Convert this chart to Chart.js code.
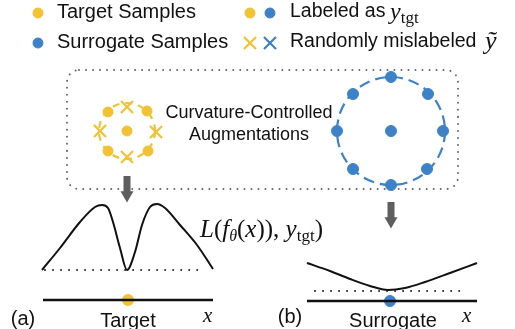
<!DOCTYPE html>
<html>
<head>
<meta charset="utf-8">
<script src="https://cdn.jsdelivr.net/npm/chart.js@4/dist/chart.umd.min.js"></script>
<style>
  html, body { margin: 0; padding: 0; background: #fff; }
  #figure { display: block; }
</style>
</head>
<body>
<canvas id="figure" width="515" height="329"></canvas>
<script>
// Colours
const yellow = '#F2C232';
const blue = '#3D82C8';
const gray = '#5e5e5e';

// Legend markers (figure units)
const legendYellowDots = [[38, 13], [250, 13]];
const legendBlueDots = [[270, 13], [38, 43]];
const legendYellowCross = [[250, 43]];
const legendBlueCross = [[270, 43]];

// Target samples: centre point + ring of augmentations
const targetCenter = [[127, 131]];
const targetRingDots = [[108, 112], [147, 111], [108, 151], [148, 151]];
const targetRingCrosses = [[127, 107], [100, 131], [156, 132], [127, 157]];
const targetRing = { cx: 127, cy: 131, r: 28 };

// Surrogate samples: centre point + ring of augmentations
const surrogateCenter = [[391, 131]];
const surrogateRingDots = [[391, 77], [428, 94], [443, 131], [427, 169], [391, 185], [353, 169], [337, 131], [353, 94]];
const surrogateRing = { cx: 391, cy: 131, r: 54 };

// Loss curves
const targetLossX = [42, 60, 80, 95, 102, 108, 113, 120, 127, 135, 142, 150, 157, 165, 180, 197, 213];
const targetLossY = [270, 248, 222, 207, 205, 208, 222, 248, 270, 252, 225, 207, 204, 208, 225, 245, 269];
const surrogateLossX = [307, 330, 350, 370, 388, 405, 425, 450, 477];
const surrogateLossY = [263, 271, 279, 286, 290, 288, 282, 273, 263];

// Reference (minimum) lines and x axes
const targetMinLine = [[45, 270], [204, 270]];
const surrogateMinLine = [[315, 291], [464, 291]];
const targetAxis = [[43, 300], [213, 300]];
const surrogateAxis = [[307, 301], [477, 301]];
const targetPoint = [[128, 300]];
const surrogatePoint = [[390, 301]];

// Arrows (shaft start, shaft end) and arrow tips
const leftArrow = [[127, 176], [127, 192]];
const rightArrow = [[391, 202], [391, 218]];
const arrowTips = [[127, 195], [391, 221]];

// Dotted box
const boxCorners = { x0: 67, y0: 70, x1: 458, y1: 189, r: 12 };

const pts = a => a.map(([x, y]) => ({ x, y }));
const zip = (xs, ys) => xs.map((x, i) => ({ x, y: ys[i] }));

function dots(data, color, r) {
  return { data: pts(data), showLine: false, pointStyle: 'circle', pointRadius: r,
    pointBackgroundColor: color, pointBorderColor: color, pointBorderWidth: 1 };
}
function crosses(data, color, r) {
  return { data: pts(data), showLine: false, pointStyle: 'crossRot', pointRadius: r,
    pointBorderColor: color, pointBorderWidth: 2.2 };
}
function line(data, color, width, dash) {
  return { data, showLine: true, borderColor: color, borderWidth: width, pointRadius: 0,
    borderDash: dash || [], borderCapStyle: dash ? 'round' : 'butt', tension: 0 };
}

// Text items: plain labels
const sans = '"Liberation Sans", Arial, sans-serif';
const serif = '"Liberation Serif", "DejaVu Serif", serif';
const labels = [
  { t: 'Target Samples', x: 57, y: 12, size: 20, align: 'left' },
  { t: 'Surrogate Samples', x: 57, y: 42, size: 20, align: 'left' },
  { t: 'Labeled as', x: 290, y: 12, size: 19.5, align: 'left' },
  { t: 'Randomly mislabeled', x: 290, y: 42, size: 19.5, align: 'left' },
  { t: 'Curvature-Controlled', x: 249, y: 113, size: 18, align: 'center' },
  { t: 'Augmentations', x: 249, y: 135, size: 18, align: 'center' },
  { t: '(a)', x: 23, y: 319, size: 20, align: 'center' },
  { t: 'Target', x: 128, y: 321, size: 20, align: 'center' },
  { t: '(b)', x: 290, y: 317, size: 20, align: 'center' },
  { t: 'Surrogate', x: 393, y: 321, size: 20, align: 'center' }
];
// Math labels: runs of [text, style, size, baseline shift]
const mathLabels = [
  { x: 390, y: 19, runs: [['y', 'i', 24, 0], ['tgt', 'r', 17, 4]] },
  { x: 485, y: 49, runs: [['ỹ', 'i', 26, 0]] },
  { x: 200, y: 237, runs: [['L', 'i', 25, 0], ['(', 'r', 25, 0], ['f', 'i', 25, 0], ['θ', 'i', 16, 4],
    ['(', 'r', 25, 0], ['x', 'i', 25, 0], [')', 'r', 25, 0], [')', 'r', 25, 0], [', ', 'r', 25, 0],
    ['y', 'i', 25, 0], ['tgt', 'r', 17, 4], [')', 'r', 25, 0]] },
  { x: 203, y: 322, runs: [['x', 'i', 21, 0]] },
  { x: 462, y: 322, runs: [['x', 'i', 21, 0]] }
];

const decorPlugin = {
  id: 'decor',
  beforeDatasetsDraw(chart) {
    const { ctx, scales: { x, y } } = chart;
    ctx.save();
    // dotted rounded box
    const b = boxCorners;
    ctx.strokeStyle = '#666';
    ctx.lineWidth = 2;
    ctx.lineCap = 'round';
    ctx.setLineDash([0.01, 7]);
    ctx.beginPath();
    ctx.roundRect(x.getPixelForValue(b.x0), y.getPixelForValue(b.y0),
      x.getPixelForValue(b.x1) - x.getPixelForValue(b.x0),
      y.getPixelForValue(b.y1) - y.getPixelForValue(b.y0), b.r);
    ctx.stroke();
    // dashed rings
    [[targetRing, yellow, [7, 6]], [surrogateRing, blue, [11, 6]]].forEach(([ring, color, dash]) => {
      ctx.strokeStyle = color;
      ctx.lineWidth = 2.2;
      ctx.lineCap = 'butt';
      ctx.setLineDash(dash);
      ctx.beginPath();
      ctx.arc(x.getPixelForValue(ring.cx), y.getPixelForValue(ring.cy),
        x.getPixelForValue(ring.cx + ring.r) - x.getPixelForValue(ring.cx), 0, Math.PI * 2);
      ctx.stroke();
    });
    ctx.restore();
  },
  afterDatasetsDraw(chart) {
    const { ctx, scales: { x, y } } = chart;
    ctx.save();
    ctx.fillStyle = '#111';
    ctx.textBaseline = 'middle';
    labels.forEach(l => {
      ctx.font = l.size + 'px ' + sans;
      ctx.textAlign = l.align;
      ctx.fillText(l.t, x.getPixelForValue(l.x), y.getPixelForValue(l.y));
    });
    ctx.textBaseline = 'alphabetic';
    ctx.textAlign = 'left';
    mathLabels.forEach(m => {
      let px = x.getPixelForValue(m.x);
      const py = y.getPixelForValue(m.y);
      m.runs.forEach(([t, style, size, dy]) => {
        ctx.font = (style === 'i' ? 'italic ' : '') + size + 'px ' + serif;
        ctx.fillText(t, px, py + dy);
        px += ctx.measureText(t).width;
      });
    });
    ctx.restore();
  }
};

new Chart(document.getElementById('figure'), {
  type: 'scatter',
  data: {
    datasets: [
      line(pts(targetMinLine), '#222', 2, [0.01, 8]),
      line(pts(surrogateMinLine), '#222', 2, [0.01, 8]),
      Object.assign(line(zip(targetLossX, targetLossY), '#111', 2), { cubicInterpolationMode: 'monotone' }),
      Object.assign(line(zip(surrogateLossX, surrogateLossY), '#111', 2), { cubicInterpolationMode: 'monotone' }),
      line(pts(targetAxis), '#111', 2.5),
      line(pts(surrogateAxis), '#111', 2.5),
      line(pts(leftArrow), gray, 7),
      line(pts(rightArrow), gray, 7),
      { data: pts(arrowTips), showLine: false, pointStyle: 'triangle', rotation: 180, pointRadius: 7.5,
        pointBackgroundColor: gray, pointBorderColor: gray, pointBorderWidth: 0 },
      dots(legendYellowDots, yellow, 5),
      dots(legendBlueDots, blue, 5),
      crosses(legendYellowCross, yellow, 8.5),
      crosses(legendBlueCross, blue, 8.5),
      dots(targetCenter, yellow, 5),
      dots(targetRingDots, yellow, 5),
      crosses(targetRingCrosses, yellow, 8.5),
      dots(surrogateCenter, blue, 5.5),
      dots(surrogateRingDots, blue, 5.5),
      dots(targetPoint, yellow, 5.5),
      dots(surrogatePoint, blue, 5.5)
    ]
  },
  options: {
    responsive: false,
    animation: false,
    layout: { padding: 0, autoPadding: false },
    plugins: { legend: { display: false }, tooltip: { enabled: false }, title: { display: false } },
    scales: {
      x: { type: 'linear', min: 0, max: 515, display: false },
      y: { type: 'linear', min: 0, max: 329, reverse: true, display: false }
    }
  },
  plugins: [decorPlugin]
});
</script>
</body>
</html>
